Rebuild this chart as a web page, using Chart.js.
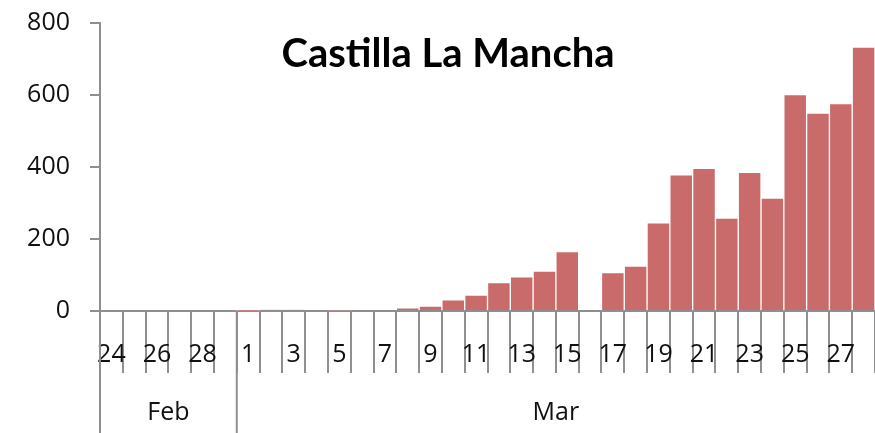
<!DOCTYPE html>
<html>
<head>
<meta charset="utf-8">
<script src="https://cdn.jsdelivr.net/npm/chart.js@4"></script>
<style>
  html, body { margin: 0; padding: 0; background: #fff; }
  #wrap { width: 875px; height: 433px; }
</style>
</head>
<body>
<div id="wrap"><canvas id="chart"></canvas></div>
<script>
// ===== DATA =====
const dayLabels = [
  '24', '25', '26', '27', '28', '29',
  '1', '2', '3', '4', '5', '6', '7', '8', '9', '10',
  '11', '12', '13', '14', '15', '16', '17', '18', '19', '20',
  '21', '22', '23', '24', '25', '26', '27', '28'
];
const cases = [
  0, 0, 0, 0, 0, 0,
  1, 3, 3, 0, 2, 0, 0, 9, 14, 31,
  44, 79, 95, 111, 165, 0, 107, 125, 245, 378,
  396, 258, 385, 314, 601, 550, 576, 733
];
const monthNames = ['Feb', 'Mar'];
const monthDays = [6, 28];
const yTicks = [0, 200, 400, 600, 800];
const chartTitle = 'Castilla La Mancha';

// ===== STYLE =====
const FONT = '"Open Sans", Lato, sans-serif';
const AXIS_GREY = '#8f8f8f';
const BAR_RED = '#c96b6a';
const TEXT = '#111';

// title drawn inside the plot + month row under the day labels
const extras = {
  id: 'extras',
  afterDraw(chart) {
    const ctx = chart.ctx;
    const x = chart.scales.x;
    const area = chart.chartArea;
    const cw = (x.right - x.left) / dayLabels.length;

    ctx.save();
    // month group separators
    ctx.strokeStyle = AXIS_GREY;
    ctx.lineWidth = 2;
    let start = 0;
    monthNames.forEach((name, i) => {
      const left = x.left + start * cw;
      const right = x.left + (start + monthDays[i]) * cw;
      ctx.beginPath();
      ctx.moveTo(left, area.bottom);
      ctx.lineTo(left, chart.height);
      ctx.stroke();
      ctx.fillStyle = TEXT;
      ctx.font = '25px ' + FONT;
      ctx.textAlign = 'center';
      ctx.textBaseline = 'middle';
      ctx.fillText(name, (left + right) / 2, 413);
      start += monthDays[i];
    });

    // title
    ctx.fillStyle = '#000';
    ctx.font = 'bold 40px Lato, sans-serif';
    ctx.textAlign = 'center';
    ctx.textBaseline = 'alphabetic';
    ctx.fillText(chartTitle, 448, 67);
    ctx.restore();
  }
};

const config = {
  type: 'bar',
  data: {
    labels: dayLabels,
    datasets: [{
      data: cases,
      backgroundColor: BAR_RED,
      borderColor: 'rgba(255,255,255,0.55)',
      borderWidth: 1,
      barPercentage: 1,
      categoryPercentage: 1
    }]
  },
  options: {
    responsive: true,
    maintainAspectRatio: false,
    animation: false,
    layout: { padding: { top: 23, right: 0, left: 0, bottom: 0 } },
    plugins: {
      legend: { display: false },
      tooltip: { enabled: false }
    },
    scales: {
      x: {
        grid: {
          offset: true,
          drawOnChartArea: false,
          color: AXIS_GREY,
          lineWidth: 2,
          tickLength: 62
        },
        border: { color: AXIS_GREY, width: 2 },
        ticks: {
          autoSkip: false,
          maxRotation: 0,
          padding: -33,
          color: TEXT,
          font: { family: FONT, size: 25 },
          callback: (v, i) => (i % 2 === 0 ? dayLabels[i] : '')
        },
        afterFit: (s) => {
          s.height = 122;
          s.paddingLeft = 0;
          s.paddingRight = 0;
        }
      },
      y: {
        min: 0,
        max: 800,
        afterBuildTicks: (s) => { s.ticks = yTicks.map(v => ({ value: v })); },
        grid: {
          drawOnChartArea: false,
          color: AXIS_GREY,
          lineWidth: 2,
          tickLength: 10
        },
        border: { color: AXIS_GREY, width: 2 },
        ticks: {
          padding: 20,
          color: TEXT,
          font: { family: FONT, size: 25 }
        },
        afterFit: (s) => {
          s.width = 100;
          s.paddingTop = 0;
          s.paddingBottom = 0;
        }
      }
    }
  },
  plugins: [extras]
};

new Chart(document.getElementById('chart'), config);
</script>
</body>
</html>
